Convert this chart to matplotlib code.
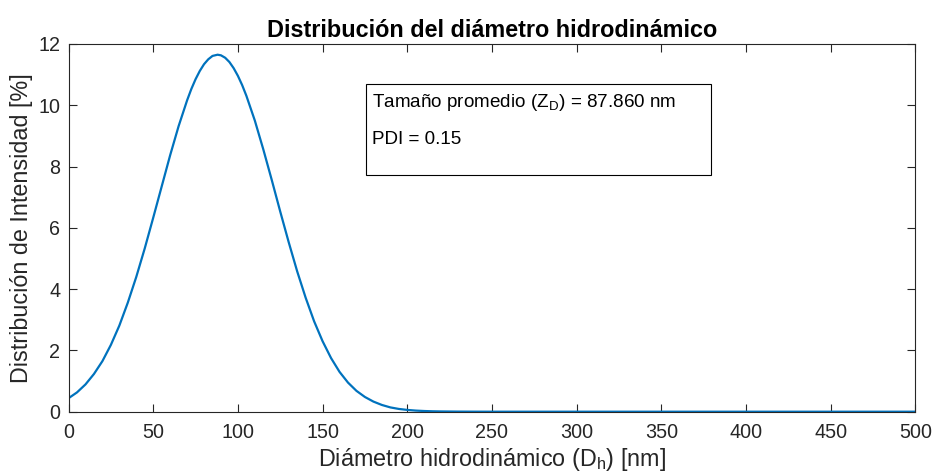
import matplotlib
matplotlib.use("Agg")
import matplotlib.pyplot as plt
from matplotlib.patches import Rectangle

# Intensity-weighted size distribution (hydrodynamic diameter, nm)
diameter_nm = [0, 5, 10, 15, 20, 25, 30, 35, 40, 45, 50, 55, 60, 65, 70, 72.5,
               75, 77.5, 80, 82.5, 85, 88, 90, 92.5, 95, 97.5, 100, 102.5, 105,
               110, 115, 120, 125, 130, 135, 140, 145, 150, 155, 160, 165, 170,
               175, 180, 185, 190, 195, 200, 205, 210, 215, 220, 230, 240, 250,
               300, 400, 500]
intensity_pct = [0.44, 0.63, 0.89, 1.23, 1.65, 2.18, 2.81, 3.56, 4.40, 5.33, 6.33,
                 7.35, 8.37, 9.32, 10.16, 10.53, 10.85, 11.12, 11.34, 11.50, 11.61,
                 11.65, 11.63, 11.55, 11.41, 11.21, 10.96, 10.66, 10.31, 9.50,
                 8.56, 7.56, 6.53, 5.53, 4.58, 3.72, 2.95, 2.30, 1.75, 1.30, 0.95,
                 0.68, 0.48, 0.33, 0.22, 0.14, 0.09, 0.058, 0.036, 0.022, 0.013,
                 0.008, 0.003, 0.001, 0.0, 0.0, 0.0, 0.0]

x_ticks = [0, 50, 100, 150, 200, 250, 300, 350, 400, 450, 500]
y_ticks = [0, 2, 4, 6, 8, 10, 12]

z_average = "87.860"
pdi = "0.15"

plt.rcParams["font.family"] = ["Liberation Sans", "DejaVu Sans"]
ink = "#262626"

fig = plt.figure(figsize=(9.35, 4.76), dpi=100)
ax = fig.add_axes([0.0733, 0.1351, 0.9057, 0.7725])

ax.plot(diameter_nm, intensity_pct, color="#0072BD", linewidth=1.6)

ax.set_xlim(0, 500)
ax.set_ylim(0, 12)
ax.set_xticks(x_ticks)
ax.set_yticks(y_ticks)
ax.tick_params(direction="in", length=6, width=0.8, colors=ink,
               labelsize=14.2, top=True, right=True)
ax.tick_params(axis="x", pad=8)
ax.tick_params(axis="y", pad=6)
for side in ax.spines.values():
    side.set_color(ink)
    side.set_linewidth(0.8)

ax.set_title("Distribución del diámetro hidrodinámico", fontsize=16.8,
             fontweight="bold", color="black", pad=5)
ax.set_xlabel("Diámetro hidrodinámico (D$_\\mathregular{h}$) [nm]",
              fontsize=16.8, color=ink, labelpad=3)
ax.set_ylabel("Distribución de Intensidad [%]", fontsize=16.8, color=ink,
              labelpad=4)

# annotation box with summary statistics
ax.add_patch(Rectangle((0.3513, 0.6437), 0.4074, 0.2475, transform=ax.transAxes,
                       facecolor="white", edgecolor="black", linewidth=0.8,
                       zorder=3))
ax.text(0.3583, 0.842,
        "Tamaño promedio (Z$_\\mathregular{D}$) = " + z_average + " nm",
        transform=ax.transAxes, fontsize=13.6, color="black", va="center",
        zorder=4)
ax.text(0.3583, 0.740, "PDI = " + pdi, transform=ax.transAxes, fontsize=13.6,
        color="black", va="center", zorder=4)

fig.savefig("out.png", dpi=100)
